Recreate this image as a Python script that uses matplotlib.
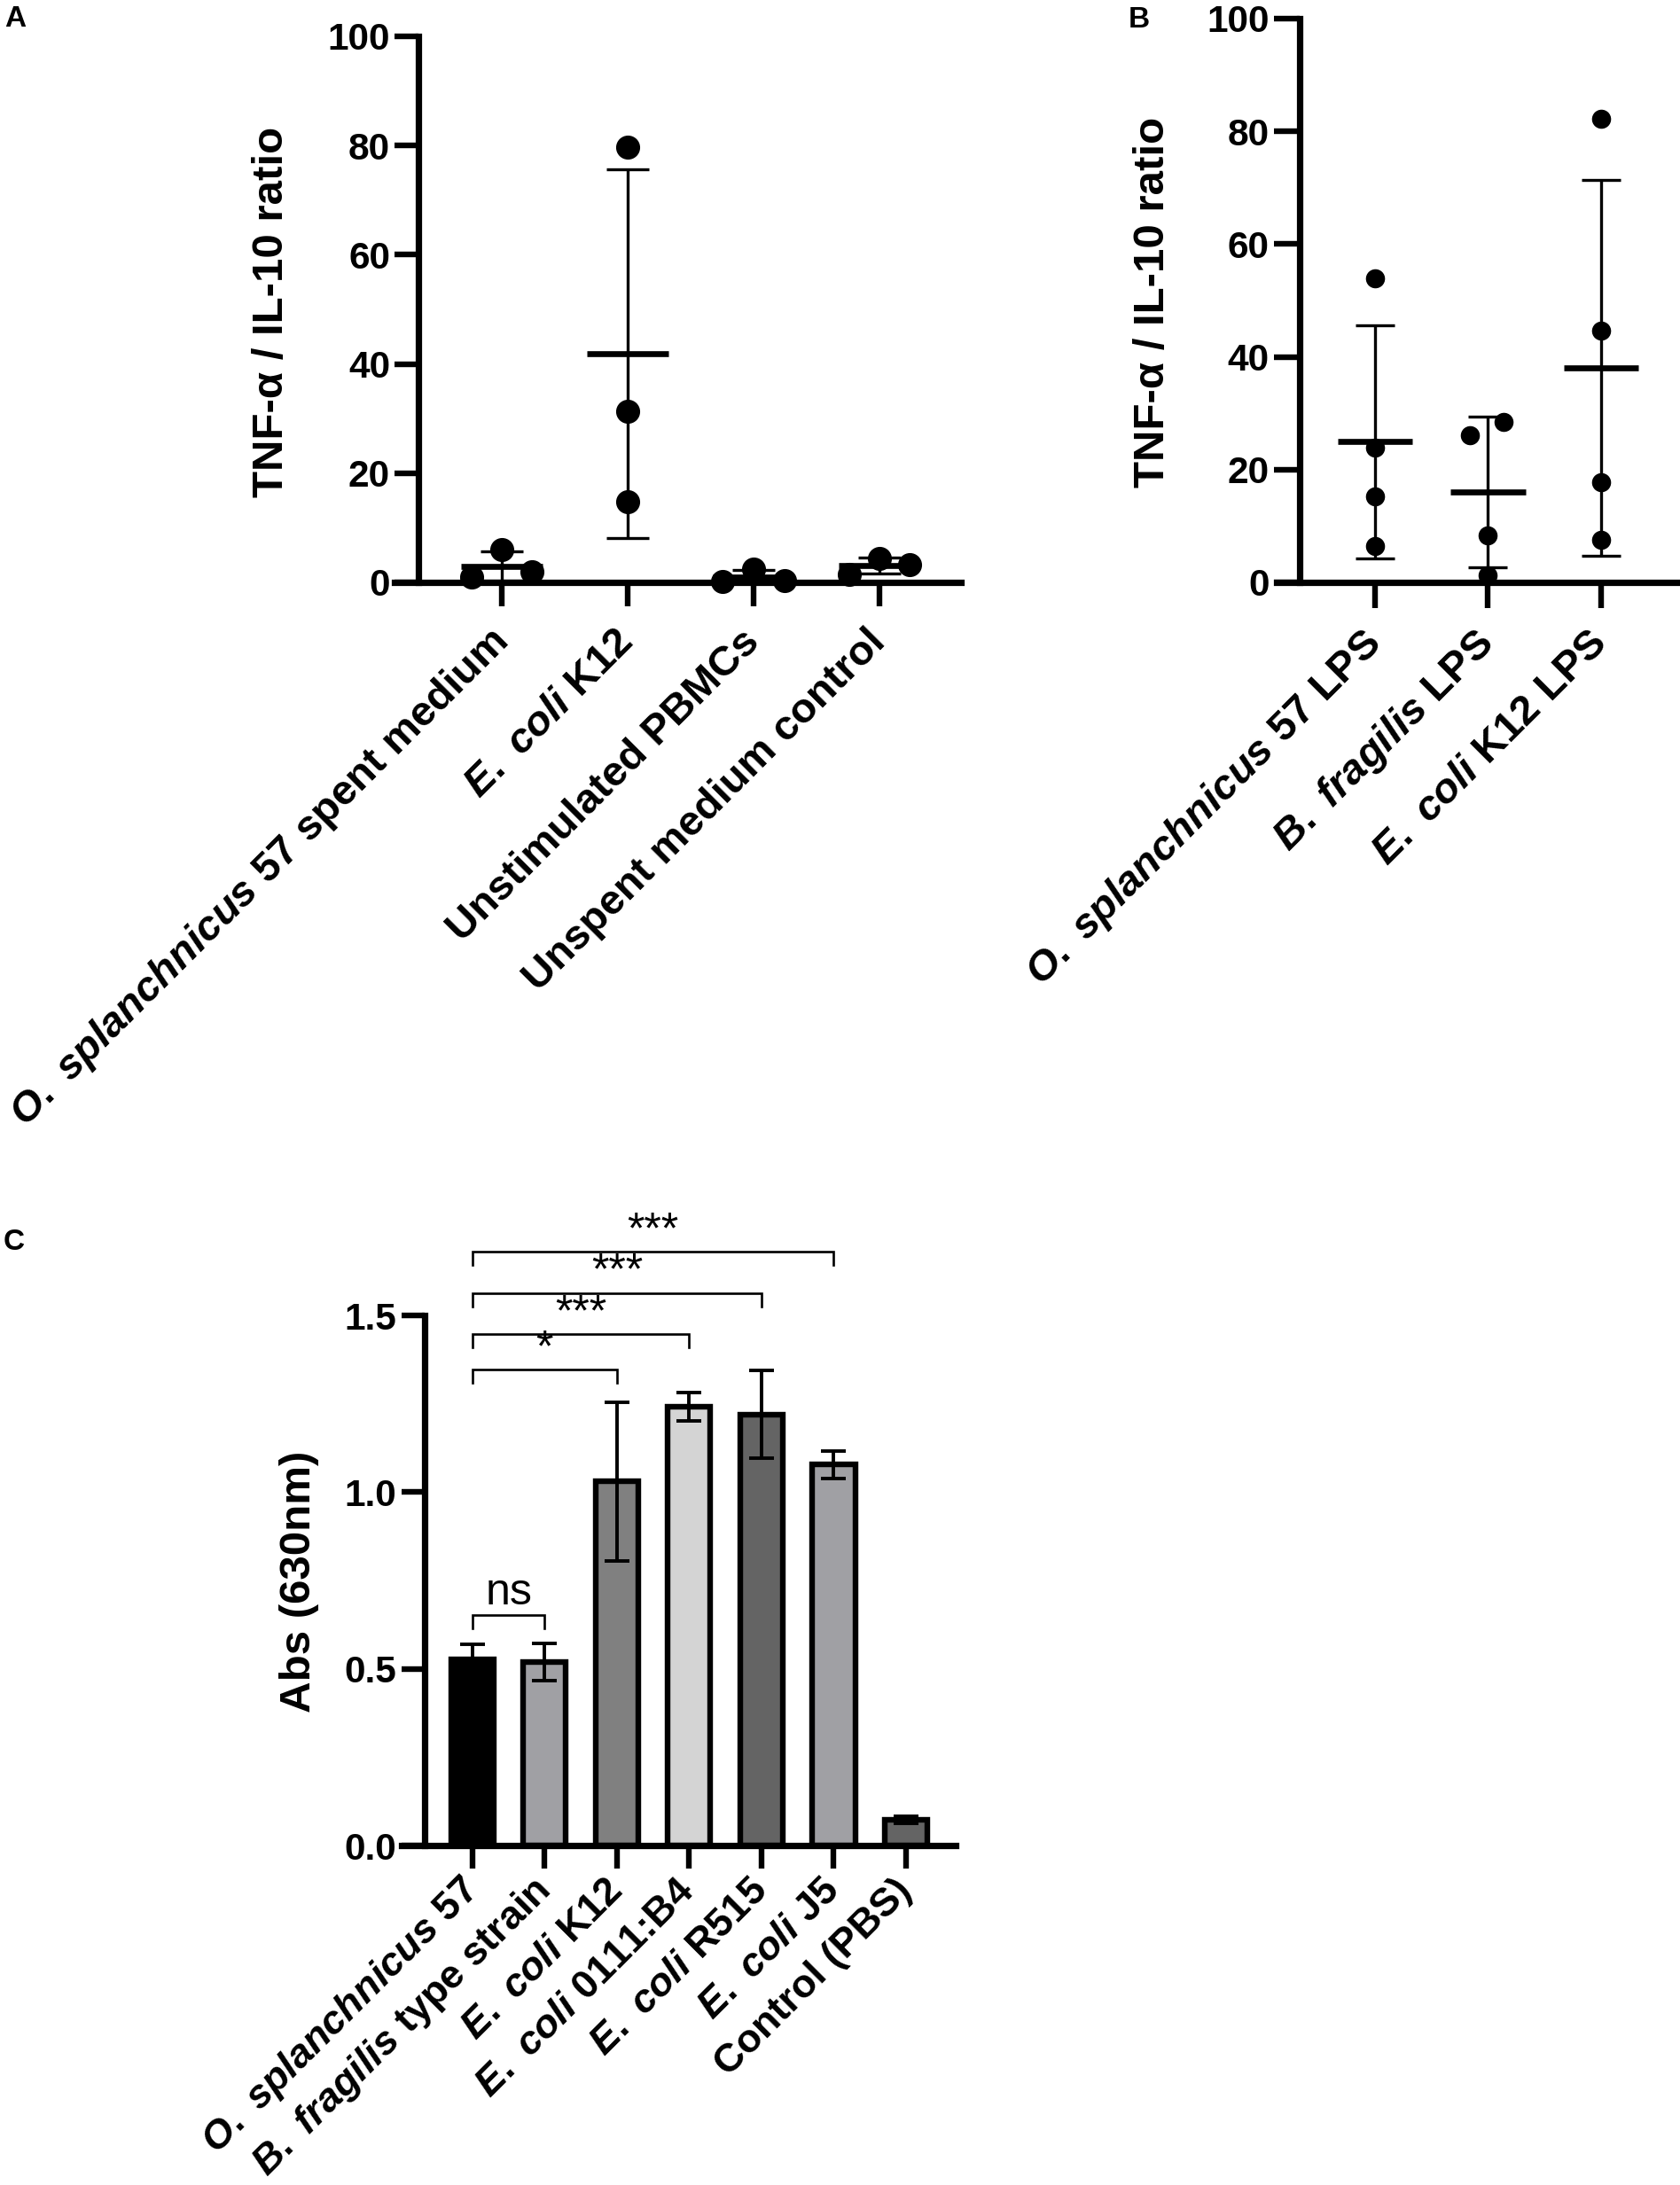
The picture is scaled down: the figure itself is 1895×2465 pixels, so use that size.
import numpy as np
import matplotlib
matplotlib.use("Agg")
from matplotlib import pyplot as plt

plt.rcParams['font.family'] = ['Liberation Sans', 'DejaVu Sans']
plt.rcParams['font.weight'] = 'bold'
plt.rcParams['mathtext.fontset'] = 'custom'
plt.rcParams['mathtext.it'] = 'Liberation Sans:italic:bold'
plt.rcParams['mathtext.rm'] = 'Liberation Sans:bold'
plt.rcParams['mathtext.bf'] = 'Liberation Sans:bold'

# ---- data -----------------------------------------------------------------
a_labels = [r"$\mathit{O.\ splanchnicus}$ 57 spent medium", r"$\mathit{E.\ coli}$ K12",
            "Unstimulated PBMCs", "Unspent medium control"]
a_points = [[6.0, 0.9, 2.0],
            [79.7, 31.4, 14.7],
            [2.4, 0.2, 0.3],
            [4.35, 1.45, 3.3]]

b_labels = [r"$\mathit{O.\ splanchnicus}$ 57 LPS", r"$\mathit{B.\ fragilis}$ LPS",
            r"$\mathit{E.\ coli}$ K12 LPS"]
b_points = [[54.0, 23.9, 15.3, 6.5],
            [26.1, 28.4, 8.4, 1.2],
            [82.3, 44.6, 17.8, 7.6]]

c_labels = [r"$\mathit{O.\ splanchnicus}$ 57", r"$\mathit{B.\ fragilis}$ type strain",
            r"$\mathit{E.\ coli}$ K12", r"$\mathit{E.\ coli}$ 0111:B4", r"$\mathit{E.\ coli}$ R515",
            r"$\mathit{E.\ coli}$ J5", "Control (PBS)"]
c_means = [0.528, 0.520, 1.030, 1.242, 1.220, 1.078, 0.072]
c_errs = [0.042, 0.053, 0.224, 0.040, 0.125, 0.039, 0.010]
c_colors = ['#000000', '#a0a0a4', '#808080', '#d4d4d4', '#646464', '#a0a0a4', '#646464']
c_sig = [(0, 2, '*'), (0, 3, '***'), (0, 4, '***'), (0, 5, '***'), (0, 1, 'ns')]

# ---- style / layout -----------------------------------------------------------
a_jitter = [[0, -0.24, 0.24], [0, 0, 0], [0, -0.245, 0.245], [0, -0.24, 0.24]]
b_jitter = [[0, 0, 0, 0], [-0.157, 0.14, 0, 0], [0, 0, 0, 0]]
c_sig_y = [1.347, 1.447, 1.563, 1.680, 0.652]

W, H = 1895, 2465
fig = plt.figure(figsize=(W / 100, H / 100), dpi=100)


def rect(x0, x1, y0, y1):
    return [x0 / W, 1 - y1 / H, (x1 - x0) / W, (y1 - y0) / H]


def style_axis(ax, spine_x, tick_len=19.5, pad=3.5):
    for s in ['top', 'right']:
        ax.spines[s].set_visible(False)
    ax.spines['left'].set_position(('data', spine_x))
    for s in ['left', 'bottom']:
        ax.spines[s].set_linewidth(5.2)
    ax.tick_params(axis='both', direction='out', length=tick_len, width=4.6,
                   labelsize=30.5, pad=pad)
    for t in ax.get_yticklabels():
        t.set_fontweight('bold')


def set_xlabels(ax, labels, pad, size=34):
    ax.set_xticks(range(len(labels)))
    ax.set_xticklabels(labels, rotation=45, ha='right', va='center',
                       rotation_mode='anchor', fontsize=size, fontweight='bold')
    ax.tick_params(axis='x', pad=pad)


def scatter_panel(ax, points, jitter, ms, cap, half):
    for i, (pts, jit) in enumerate(zip(points, jitter)):
        pts = np.array(pts)
        m, sd = pts.mean(), pts.std(ddof=1)
        ax.errorbar([i], [m], yerr=[sd], fmt='none', ecolor='black',
                    elinewidth=2.4, capsize=cap, capthick=2.4, zorder=3)
        ax.plot([i - half, i + half], [m, m], color='black', lw=4.8,
                solid_capstyle='butt', zorder=4)
        ax.plot(np.array(jit) + i, pts, 'o', color='black', ms=ms,
                clip_on=False, zorder=5)


# Panel A
axA = fig.add_axes(rect(445, 1084, 41, 657))
scatter_panel(axA, a_points, a_jitter, ms=18.5, cap=17.5, half=0.324)
axA.set_xlim(-0.852, 3.648)
axA.set_ylim(0, 100)
axA.set_yticks(range(0, 101, 20))
style_axis(axA, -0.662)
set_xlabels(axA, a_labels, pad=24)

# Panel B
axB = fig.add_axes(rect(1440, 1892, 21, 657))
scatter_panel(axB, b_points, b_jitter, ms=14.5, cap=16, half=0.33)
axB.set_xlim(-0.871, 2.675)
axB.set_ylim(0, 100)
axB.set_yticks(range(0, 101, 20))
style_axis(axB, -0.667, tick_len=21)
set_xlabels(axB, b_labels, pad=24)

# Panel C
axC = fig.add_axes(rect(453, 1078, 1484, 2082))
xs = np.arange(len(c_means))
axC.bar(xs, c_means, width=0.59, color=c_colors, edgecolor='black', linewidth=4.6,
        yerr=c_errs, error_kw=dict(elinewidth=2.8, capsize=10, capthick=2.8, ecolor='black'),
        zorder=2)
axC.set_xlim(-0.98, 6.687)
axC.set_ylim(0, 1.5)
axC.set_yticks([0, 0.5, 1.0, 1.5])
axC.set_yticklabels(['0.0', '0.5', '1.0', '1.5'])
style_axis(axC, -0.663, tick_len=19)
set_xlabels(axC, c_labels, pad=13, size=32.5)

for (i1, i2, txt), y in zip(c_sig, c_sig_y):
    axC.plot([i1, i1, i2, i2], [y - 0.038, y, y, y - 0.038], color='black', lw=1.9,
             clip_on=False, solid_joinstyle='miter')
    off = 0.0 if txt != 'ns' else 0.004
    axC.text((i1 + i2) / 2, y + off, txt, ha='center', va='bottom', fontsize=36,
             fontweight='normal', clip_on=False)

# y labels
fig.text(307 / W, 1 - 352 / H, "TNF-α / IL-10 ratio", rotation=90, ha='center', va='center',
         fontsize=35.5, fontweight='bold')
fig.text(1300 / W, 1 - 341 / H, "TNF-α / IL-10 ratio", rotation=90, ha='center', va='center',
         fontsize=35.5, fontweight='bold')
fig.text(338 / W, 1 - 1784 / H, "Abs (630nm)", rotation=90, ha='center', va='center',
         fontsize=35.5, fontweight='bold')

# panel letters
fig.text(5 / W, 1 - 6 / H, "A", ha='left', va='top', fontsize=24, fontweight='bold')
fig.text(1273 / W, 1 - 7 / H, "B", ha='left', va='top', fontsize=24, fontweight='bold')
fig.text(4 / W, 1 - 1386 / H, "C", ha='left', va='top', fontsize=24, fontweight='bold')

fig.savefig("out.png", dpi=100)
